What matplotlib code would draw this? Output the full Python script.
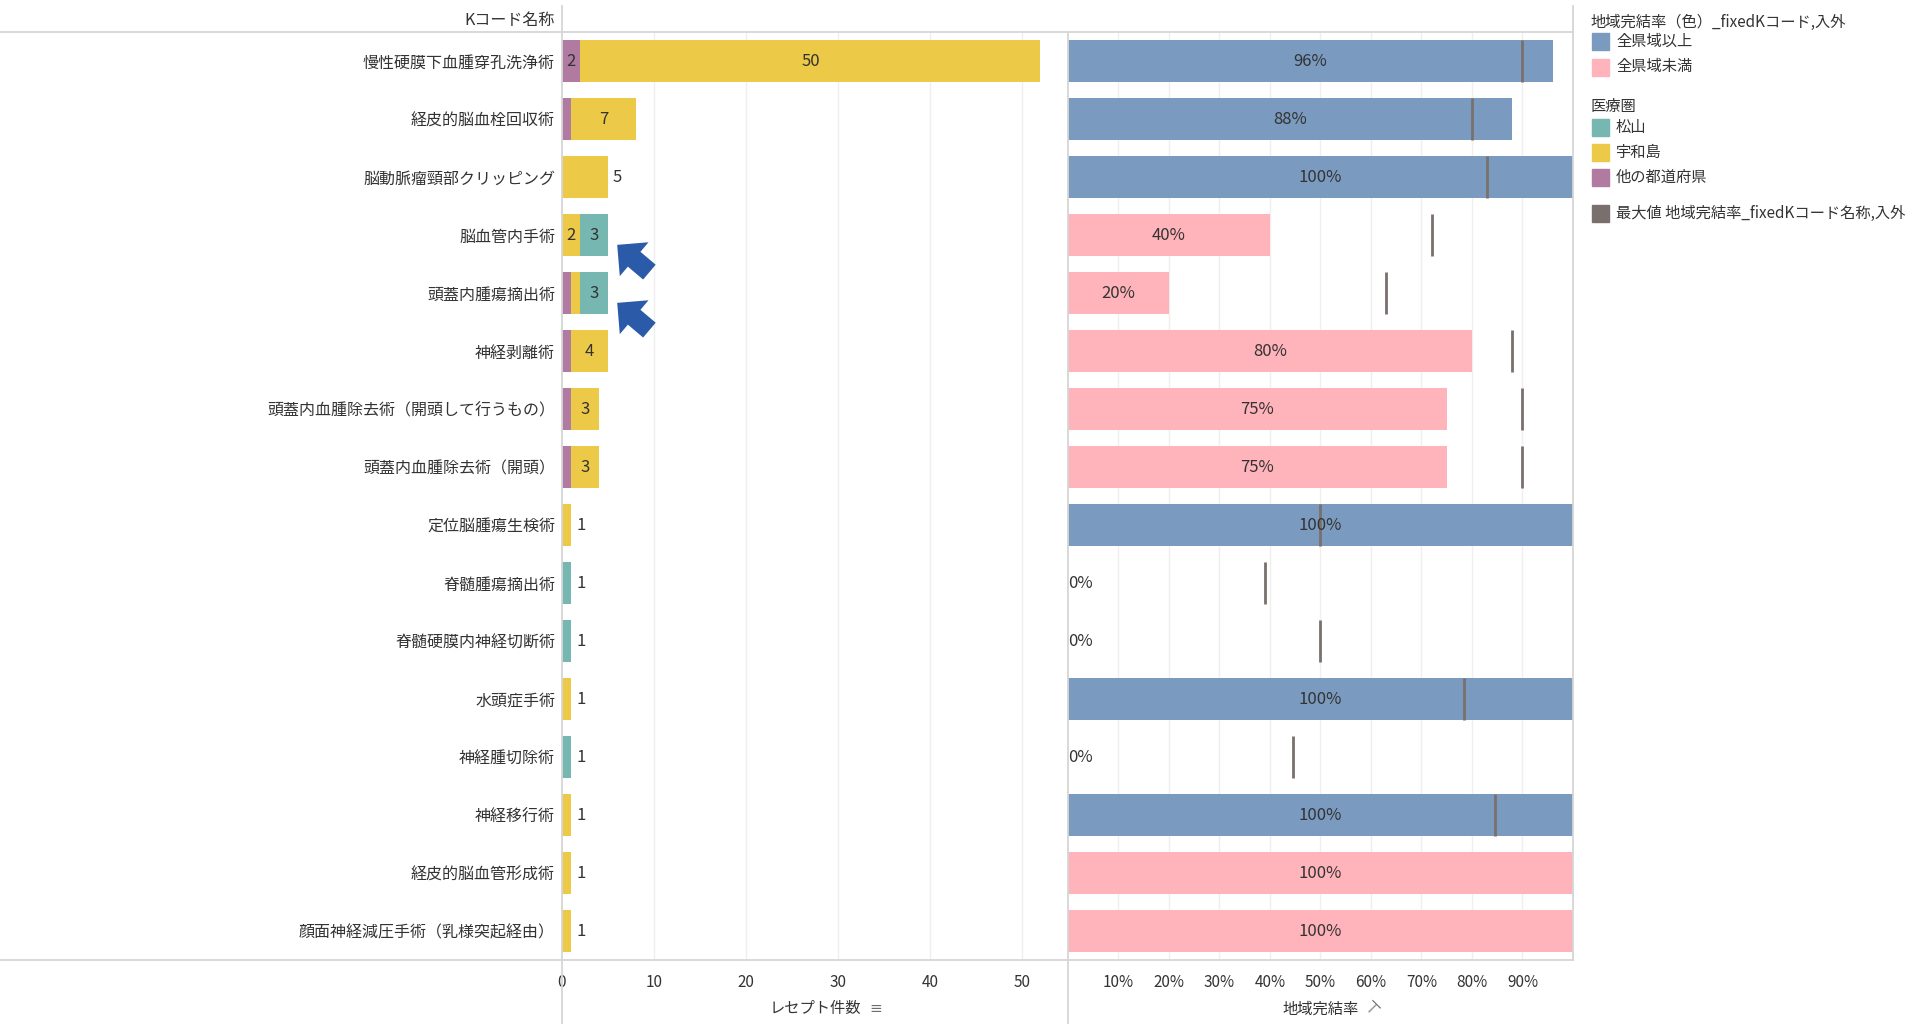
import numpy as np
import matplotlib.pyplot as plt
from matplotlib.lines import Line2D
from matplotlib.patches import Rectangle, FancyArrowPatch

plt.rcParams['font.family'] = ['Noto Sans CJK JP', 'DejaVu Sans']

# データ
names = ['慢性硬膜下血腫穿孔洗浄術', '経皮的脳血栓回収術', '脳動脈瘤頸部クリッピング',
         '脳血管内手術', '頭蓋内腫瘍摘出術', '神経剥離術',
         '頭蓋内血腫除去術（開頭して行うもの）', '頭蓋内血腫除去術（開頭）',
         '定位脳腫瘍生検術', '脊髄腫瘍摘出術', '脊髄硬膜内神経切断術', '水頭症手術',
         '神経腫切除術', '神経移行術', '経皮的脳血管形成術', '顔面神経減圧手術（乳様突起経由）']
other_pref = [2, 1, 0, 0, 1, 1, 1, 1, 0, 0, 0, 0, 0, 0, 0, 0]
uwajima = [50, 7, 5, 2, 1, 4, 3, 3, 1, 0, 0, 1, 0, 1, 1, 1]
matsuyama = [0, 0, 0, 3, 3, 0, 0, 0, 0, 1, 1, 0, 1, 0, 0, 0]

rate = [0.96, 0.88, 1.0, 0.40, 0.20, 0.80, 0.75, 0.75, 1.0, 0.0, 0.0, 1.0, 0.0, 1.0, 1.0, 1.0]
rate_group = ['以上', '以上', '以上', '未満', '未満', '未満', '未満', '未満',
              '以上', '未満', '未満', '以上', '未満', '以上', '未満', '未満']
max_rate = [0.90, 0.80, 0.83, 0.72, 0.63, 0.88, 0.90, 0.90,
            0.50, 0.39, 0.50, 0.785, 0.445, 0.845, np.nan, np.nan]

arrow_rows = [3, 4]  # 松山の部分を指す矢印

count_ticks = [0, 10, 20, 30, 40, 50]
rate_ticks = [0.1, 0.2, 0.3, 0.4, 0.5, 0.6, 0.7, 0.8, 0.9]

# 色
c_other = '#B07AA1'
c_uwa = '#EDC948'
c_mat = '#76B7B2'
c_above = '#7A9ABF'
c_below = '#FFB3BA'
c_max = '#79706E'
c_line = '#D6D6D6'
c_grid = '#EFEFEF'
c_text = '#333333'

W, H = 1915, 1024
fig = plt.figure(figsize=(W / 100, H / 100), dpi=100)

x0, x1, x2 = 562, 1068, 1573
ytop, ybot = 32, 960
ax1 = fig.add_axes([x0 / W, 1 - ybot / H, (x1 - x0) / W, (ybot - ytop) / H])
ax2 = fig.add_axes([x1 / W, 1 - ybot / H, (x2 - x1) / W, (ybot - ytop) / H])

y = np.arange(len(names))
bh = 0.74

# 左：レセプト件数
segs = [(other_pref, c_other), (uwajima, c_uwa), (matsuyama, c_mat)]
left = np.zeros(len(names))
for vals, col in segs:
    v = np.array(vals, dtype=float)
    ax1.barh(y, v, left=left, height=bh, color=col, zorder=2)
    left += v

totals = np.array(other_pref) + np.array(uwajima) + np.array(matsuyama)
for i in range(len(names)):
    parts = [other_pref[i], uwajima[i], matsuyama[i]]
    nz = [p for p in parts if p > 0]
    if len(nz) == 1:
        ax1.text(totals[i] + 0.55, i, str(totals[i]), ha='left', va='center',
                 fontsize=12, color=c_text, zorder=4)
    else:
        start = 0
        for p in parts:
            if p >= 2:
                ax1.text(start + p / 2, i, str(p), ha='center', va='center',
                         fontsize=12, color=c_text, zorder=4)
            start += p

for r in arrow_rows:
    arr = FancyArrowPatch((9.5, r + 0.64), (6.0, r + 0.17),
                          arrowstyle='simple,head_length=16,head_width=32,tail_width=14',
                          mutation_scale=1, shrinkA=0, shrinkB=0,
                          fc='#2B5BA8', ec='none', zorder=5)
    ax1.add_patch(arr)

ax1.set_xlim(0, 55)
ax1.set_ylim(len(names) - 0.5, -0.5)
ax1.set_xticks(count_ticks)
ax1.set_xticklabels([str(t) for t in count_ticks])
ax1.set_yticks(y)
ax1.set_yticklabels(names)
ax1.tick_params(axis='y', length=0, pad=5, labelsize=11.5, labelcolor=c_text)
ax1.tick_params(axis='x', length=0, pad=10, labelsize=11, labelcolor=c_text)
for t in count_ticks[1:]:
    ax1.axvline(t, color=c_grid, lw=1, zorder=0)
ax1.text(0.5, -0.0528, 'レセプト件数', transform=ax1.transAxes, ha='center', va='center',
         fontsize=11, color=c_text)
ax1.text(0.62, -0.0528, '≡', transform=ax1.transAxes, ha='center', va='center',
         fontsize=11, color='#6E6E6E', family='DejaVu Sans')

# 右：地域完結率
for i in range(len(names)):
    col = c_above if rate_group[i] == '以上' else c_below
    ax2.barh(i, rate[i], height=bh, color=col, zorder=2)
    if rate[i] > 0:
        ax2.text(rate[i] / 2, i, f'{rate[i]:.0%}', ha='center', va='center',
                 fontsize=12, color=c_text, zorder=4)
    else:
        ax2.text(0.0, i, '0%', ha='left', va='center', fontsize=12, color=c_text, zorder=4)
    if not np.isnan(max_rate[i]):
        ax2.plot([max_rate[i], max_rate[i]], [i - bh / 2, i + bh / 2], color=c_max,
                 lw=2, solid_capstyle='butt', zorder=3)

ax2.set_xlim(0, 1)
ax2.set_ylim(len(names) - 0.5, -0.5)
ax2.set_xticks(rate_ticks)
ax2.set_xticklabels([f'{t:.0%}' for t in rate_ticks])
ax2.set_yticks([])
ax2.tick_params(axis='x', length=0, pad=10, labelsize=11, labelcolor=c_text)
for t in rate_ticks:
    ax2.axvline(t, color=c_grid, lw=1, zorder=0)
ax2.text(0.5, -0.0528, '地域完結率', transform=ax2.transAxes, ha='center', va='center',
         fontsize=11, color=c_text)
ax2.text(0.6, -0.0528, '⊤', transform=ax2.transAxes, ha='center', va='center',
         fontsize=12, color='#6E6E6E', rotation=-45, family='DejaVu Sans')

for ax in (ax1, ax2):
    for s in ax.spines.values():
        s.set_visible(False)

# 枠線
def fline(xa, ya, xb, yb):
    fig.add_artist(Line2D([xa / W, xb / W], [1 - ya / H, 1 - yb / H],
                          color=c_line, lw=1.3, transform=fig.transFigure))

fline(0, ytop, x2, ytop)
fline(0, ybot, x2, ybot)
fline(x0, 6, x0, H)
fline(x1, ytop, x1, H)
fline(x2, 6, x2, ybot)

fig.text(555 / W, 1 - 20 / H, 'Kコード名称', ha='right', va='center', fontsize=11.5, color=c_text)

# 凡例
def leg_title(yy, s):
    fig.text(1590 / W, 1 - yy / H, s, ha='left', va='center', fontsize=11, color=c_text)

def leg_item(yy, col, s):
    fig.add_artist(Rectangle((1592 / W, 1 - (yy + 8.5) / H), 17 / W, 17 / H,
                             color=col, transform=fig.transFigure))
    fig.text(1616 / W, 1 - yy / H, s, ha='left', va='center', fontsize=11, color=c_text)

leg_title(22, '地域完結率（色）_fixedKコード,入外')
leg_item(41, c_above, '全県域以上')
leg_item(67, c_below, '全県域未満')
leg_title(106, '医療圏')
leg_item(127, c_mat, '松山')
leg_item(152, c_uwa, '宇和島')
leg_item(177, c_other, '他の都道府県')
leg_item(213, c_max, '最大値 地域完結率_fixedKコード名称,入外')

fig.savefig('out.png', dpi=100, facecolor='white')
